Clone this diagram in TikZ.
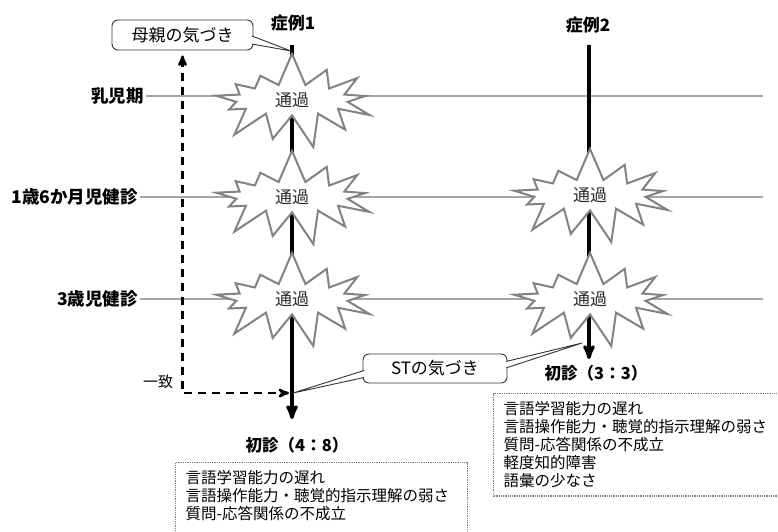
\documentclass[tikz,border=0pt]{standalone}
\usepackage{fontspec}
\setmainfont{Noto Sans CJK JP}
\usepackage{tikz}
\usetikzlibrary{shapes,shapes.symbols,arrows,calc,positioning}
\usepackage{xcolor}
\definecolor{burstgray}{RGB}{130,130,130}
\definecolor{rowgray}{RGB}{165,165,165}
\definecolor{passtext}{RGB}{45,45,45}

\begin{document}
\begin{tikzpicture}[x=1pt,y=-1pt,
	  every node/.style={align=center,text=black,draw=none},
	  caselabel/.style={font=\fontsize{17}{19}\selectfont\bfseries},
	  rowlabel/.style={font=\fontsize{17.5}{19}\selectfont\bfseries,anchor=east,inner sep=2pt},
	  rowline/.style={draw=rowgray,line width=1.8pt},
	  timeline/.style={->,>=stealth',line width=3.4pt},
	  pass/.style={starburst,starburst points=13,starburst point height=34pt,random starburst=7,
	    draw=burstgray,line width=2pt,fill=white,minimum width=180pt,minimum height=96pt,
	    text=passtext,font=\fontsize{17}{19}\selectfont},
	  bubble/.style={draw=black!80,line width=0.9pt,rounded corners=6pt,fill=white,inner sep=0pt,
	    font=\fontsize{17}{19}\selectfont},
	  tail/.style={draw=black!80,line width=0.9pt,fill=white},
	  agree/.style={<->,>=stealth',dash pattern=on 8pt off 6pt,line width=2.4pt,shorten <=5pt,shorten >=2pt},
	  visit/.style={font=\fontsize{16.5}{18}\selectfont\bfseries},
	  findings/.style={draw=gray,dash pattern=on 1pt off 0.8pt,line width=1.4pt,anchor=north west,
	    align=left,text width=272pt,inner xsep=10pt,inner ysep=8pt,font=\fontsize{15.5}{18}\selectfont}]

	  \path[use as bounding box,clip] (0,0) rectangle (778,531);

	  % Rows of check-ups
	  \coordinate (rowend) at (763,0);
	  \node[rowlabel] (infant) at (146,96) {乳児期};
	  \node[rowlabel] (check18) at (140,197) {1歳6か月児健診};
	  \node[rowlabel] (check3) at (140,299) {3歳児健診};
	  \draw[rowline] (infant.east) -- (infant.east -| rowend);
	  \draw[rowline] (check18.east) -- (check18.east -| rowend);
	  \draw[rowline] (check3.east) -- (check3.east -| rowend);

	  % Two cases
	  \node[caselabel] (case1) at (293,23) {症例1};
	  \node[caselabel] (case2) at (588,25) {症例2};
	  \coordinate (top1) at (292,45);
	  \coordinate (end1) at (292,419);
	  \coordinate (top2) at (589,45);
	  \coordinate (end2) at (589,359);
	  \draw[timeline] (top1) -- (end1);
	  \draw[timeline] (top2) -- (end2);

	  \node[pass] (pass1a) at (292,100) {通過};
	  \node[pass] (pass1b) at (292,197) {通過};
	  \node[pass] (pass1c) at (292,299) {通過};
	  \node[pass] (pass2b) at (590,195) {通過};
	  \node[pass] (pass2c) at (590,299) {通過};

	  % Who noticed
	  \coordinate (voice1) at (291,51);
	  \coordinate (voice2a) at (293,393);
	  \coordinate (voice2b) at (582,343);
	  \node[bubble,minimum width=141pt,minimum height=30pt] (mother) at (182.5,35) {母親の気づき};
	  \draw[tail] ([xshift=-1.5pt,yshift=-1pt]mother.east) -- (voice1) -- ([xshift=-1.5pt,yshift=-9pt]mother.east);
	  \node[bubble,minimum width=144pt,minimum height=29pt] (st) at (435,368.5) {STの気づき};
	  \draw[tail] ([xshift=1.5pt,yshift=-2pt]st.west) -- (voice2a) -- ([xshift=1.5pt,yshift=-9pt]st.west);
	  \draw[tail] ([xshift=-1.5pt,yshift=7pt]st.east) -- (voice2b) -- ([xshift=-1.5pt,yshift=0.5pt]st.east);

	  \coordinate (meet1) at (291,393);
	  \draw[agree] (mother.south) |- (meet1);
	  \node[font=\fontsize{15}{18}\selectfont] (agreelabel) at (158,382) {一致};

	  % First visits
	  \node[visit] (visit1) at (297,445) {初診（4：8）};
	  \node[visit] (visit2) at (596,373) {初診（3：3）};
	  \node[findings] (find1) at (175,462) {言語学習能力の遅れ\\言語操作能力・聴覚的指示理解の弱さ\\質問-応答関係の不成立\\\mbox{}};
	  \node[findings,text width=290pt] (find2) at (493,393) {言語学習能力の遅れ\\言語操作能力・聴覚的指示理解の弱さ\\質問-応答関係の不成立\\軽度知的障害\\語彙の少なさ};
\end{tikzpicture}
\end{document}
